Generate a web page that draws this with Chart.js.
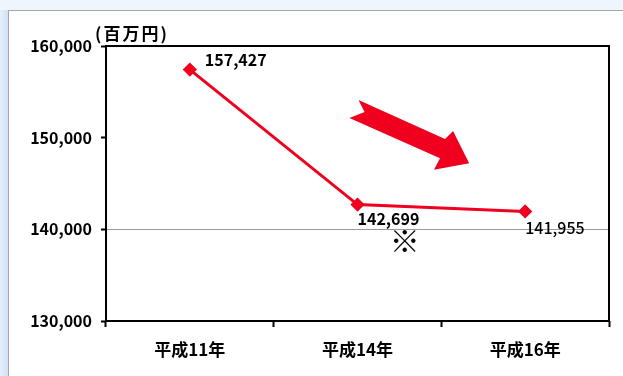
<!DOCTYPE html>
<html><head><meta charset="utf-8">
<script src="https://cdn.jsdelivr.net/npm/chart.js@4"></script>
<style>
html,body{margin:0;padding:0;width:623px;height:376px;overflow:hidden;background:#eef5fd;}
#strip{position:absolute;left:0;top:0;width:8px;height:376px;background:linear-gradient(to right,#e6f0fb,#cfe2f6);}
#top{position:absolute;left:0;top:0;width:623px;height:10px;background:#eef5fd;}
#panel{position:absolute;left:8px;top:10px;width:700px;height:400px;background:#fff;border-top:1px solid #a6a6a6;border-left:1px solid #a6a6a6;}
#wrap{position:absolute;left:0;top:0;width:623px;height:376px;}
</style></head>
<body>
<div id="strip"></div><div id="top"></div><div id="panel"></div>
<div id="wrap"><canvas id="c" width="623" height="376"></canvas></div>
<script>
const categories = ['平成11年','平成14年','平成16年'];
const values = [157427, 142699, 141955];
const yTicks = [130000, 140000, 150000, 160000];
const unitLabel = '(百万円)';
const noteMark = '※';

const FONT = "'Noto Sans CJK JP', 'Liberation Sans', sans-serif";
const RED = '#f0001e';

const deco = {
  id:'deco',
  afterDatasetsDraw(chart){
    const {ctx, chartArea:a} = chart;
    ctx.save();
    // frame
    ctx.strokeStyle='#000'; ctx.lineWidth=2;
    ctx.strokeRect(a.left, a.top, a.right-a.left, a.bottom-a.top);
    // unit label
    ctx.fillStyle='#000';
    ctx.font = "bold 17px " + FONT;
    ctx.textAlign='left'; ctx.textBaseline='middle';
    if ('letterSpacing' in ctx) ctx.letterSpacing = '2px';
    ctx.fillText(unitLabel, a.left-11, a.top-12);
    if ('letterSpacing' in ctx) ctx.letterSpacing = '0px';
    // data labels
    const pts = chart.getDatasetMeta(0).data;
    const off = [[15,-10,'bold'],[0,14,'bold'],[0,17,'500']];
    pts.forEach((p,i)=>{
      ctx.font = off[i][2]+" 16px "+FONT;
      ctx.fillText(values[i].toLocaleString('en-US'), p.x+off[i][0], p.y+off[i][1]);
    });
    // note mark
    const w = a.right-a.left, h = a.bottom-a.top;
    ctx.font = "30px " + FONT;
    ctx.textAlign='center';
    ctx.fillText(noteMark, a.left + w*0.594, a.top + h*0.708);
    // arrow (decorative)
    const P = (fx,fy)=>[a.left + w*fx, a.top + h*fy];
    const poly = [
      P(0.502,0.196), P(0.674,0.338), P(0.690,0.309), P(0.722,0.426),
      P(0.652,0.450), P(0.664,0.408), P(0.484,0.262), P(0.514,0.240)
    ];
    ctx.fillStyle = RED;
    ctx.beginPath();
    poly.forEach((q,i)=> i? ctx.lineTo(q[0],q[1]) : ctx.moveTo(q[0],q[1]));
    ctx.closePath(); ctx.fill();
    ctx.restore();
  }
};

new Chart(document.getElementById('c'), {
  type:'line',
  data:{labels:categories, datasets:[{
    data:values, borderColor:RED, backgroundColor:RED, borderWidth:3,
    pointStyle:'rectRot', pointRadius:5, pointHoverRadius:5, tension:0
  }]},
  options:{
    responsive:false, animation:false,
    layout:{padding:{top:46, right:14, left:0, bottom:0}},
    plugins:{legend:{display:false}, tooltip:{enabled:false}},
    scales:{
      y:{
        min:130000, max:160000,
        afterFit(s){ s.width = 106; },
        afterBuildTicks(s){ s.ticks = yTicks.map(v=>({value:v})); },
        ticks:{color:'#000', font:{family:FONT, size:16, weight:'bold'}, padding:9,
               callback:v=>v.toLocaleString('en-US')},
        grid:{color:c=> c.tick && c.tick.value===140000 ? '#9a9a9a' : 'rgba(0,0,0,0)', lineWidth:1,
              tickColor:'#000', tickLength:5, tickWidth:2},
        border:{display:false}
      },
      x:{
        offset:true,
        afterFit(s){ s.height = 55; },
        ticks:{color:'#000', font:{family:FONT, size:17, weight:'bold'}, padding:12},
        grid:{offset:true, drawOnChartArea:false, tickColor:'#000', tickLength:6, tickWidth:2},
        border:{display:false}
      }
    }
  },
  plugins:[deco]
});
</script>
</body></html>
